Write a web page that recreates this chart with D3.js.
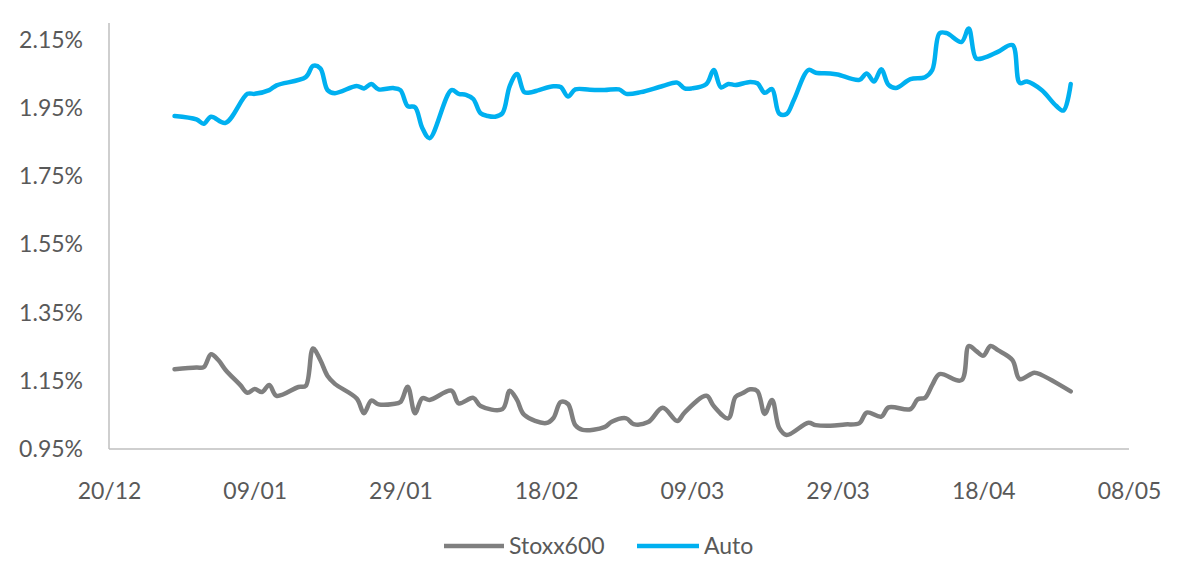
<!DOCTYPE html>
<html>
<head>
<meta charset="utf-8">
<script src="https://cdn.jsdelivr.net/npm/d3@7"></script>
<style>
  html, body { margin: 0; padding: 0; background: #ffffff; }
  svg { display: block; }
  text { font-family: Lato, "Open Sans", sans-serif; fill: #595959; }
</style>
</head>
<body>
<svg id="chart" width="1195" height="565"></svg>
<script>
// ---------- data ----------
const seriesNames = ["Stoxx600", "Auto"];
const xTickLabels = ["20/12", "09/01", "29/01", "18/02", "09/03", "29/03", "18/04", "08/05"];
const yTickValues = [0.95, 1.15, 1.35, 1.55, 1.75, 1.95, 2.15];

const autoDates = ["2019-12-29","2020-01-01","2020-01-02","2020-01-03","2020-01-05","2020-01-08","2020-01-09","2020-01-11","2020-01-12","2020-01-16","2020-01-17","2020-01-18","2020-01-19","2020-01-20","2020-01-23","2020-01-24","2020-01-25","2020-01-26","2020-01-28","2020-01-29","2020-01-30","2020-01-31","2020-02-01","2020-02-02","2020-02-05","2020-02-06","2020-02-07","2020-02-08","2020-02-09","2020-02-10","2020-02-11","2020-02-12","2020-02-13","2020-02-14","2020-02-15","2020-02-16","2020-02-17","2020-02-19","2020-02-20","2020-02-21","2020-02-22","2020-02-24","2020-02-26","2020-02-28","2020-02-29","2020-03-02","2020-03-05","2020-03-07","2020-03-08","2020-03-09","2020-03-11","2020-03-12","2020-03-13","2020-03-14","2020-03-15","2020-03-17","2020-03-18","2020-03-19","2020-03-20","2020-03-21","2020-03-22","2020-03-23","2020-03-25","2020-03-26","2020-03-28","2020-03-29","2020-04-01","2020-04-02","2020-04-03","2020-04-04","2020-04-05","2020-04-06","2020-04-08","2020-04-10","2020-04-11","2020-04-12","2020-04-13","2020-04-15","2020-04-16","2020-04-17","2020-04-18","2020-04-20","2020-04-22","2020-04-23","2020-04-24","2020-04-26","2020-04-28","2020-04-29","2020-04-30"];
const autoValues = [1.927,1.917,1.904,1.925,1.907,1.992,1.992,2.003,2.017,2.041,2.074,2.067,2.003,1.994,2.015,2.008,2.021,2.005,2.009,2.003,1.956,1.953,1.892,1.862,2.003,1.992,1.989,1.977,1.935,1.927,1.925,1.935,2.015,2.050,1.997,1.997,2.003,2.014,2.012,1.984,2.005,2.004,2.003,2.005,1.992,1.997,2.015,2.025,2.008,2.008,2.021,2.062,2.011,2.021,2.018,2.027,2.023,1.995,2.006,1.934,1.933,1.974,2.062,2.054,2.052,2.049,2.033,2.052,2.028,2.064,2.018,2.009,2.035,2.041,2.062,2.170,2.170,2.144,2.184,2.096,2.097,2.115,2.135,2.024,2.028,2.003,1.957,1.943,2.021];

const stoxxDates = ["2019-12-29","2020-01-01","2020-01-02","2020-01-03","2020-01-04","2020-01-05","2020-01-07","2020-01-08","2020-01-09","2020-01-10","2020-01-11","2020-01-12","2020-01-15","2020-01-16","2020-01-17","2020-01-18","2020-01-19","2020-01-20","2020-01-23","2020-01-24","2020-01-25","2020-01-26","2020-01-28","2020-01-29","2020-01-30","2020-01-31","2020-02-01","2020-02-02","2020-02-05","2020-02-06","2020-02-08","2020-02-09","2020-02-12","2020-02-13","2020-02-14","2020-02-15","2020-02-18","2020-02-19","2020-02-20","2020-02-21","2020-02-22","2020-02-23","2020-02-26","2020-02-27","2020-02-29","2020-03-01","2020-03-03","2020-03-05","2020-03-07","2020-03-08","2020-03-11","2020-03-12","2020-03-14","2020-03-15","2020-03-16","2020-03-17","2020-03-18","2020-03-19","2020-03-20","2020-03-21","2020-03-22","2020-03-25","2020-03-26","2020-03-28","2020-03-30","2020-04-01","2020-04-02","2020-04-04","2020-04-05","2020-04-08","2020-04-09","2020-04-10","2020-04-11","2020-04-12","2020-04-15","2020-04-16","2020-04-17","2020-04-18","2020-04-19","2020-04-20","2020-04-22","2020-04-23","2020-04-25","2020-04-26","2020-04-30"];
const stoxxValues = [1.184,1.189,1.190,1.228,1.211,1.182,1.138,1.115,1.126,1.117,1.138,1.106,1.132,1.135,1.245,1.211,1.164,1.141,1.098,1.055,1.092,1.081,1.082,1.088,1.133,1.055,1.099,1.094,1.121,1.084,1.100,1.076,1.067,1.121,1.094,1.050,1.026,1.041,1.088,1.082,1.020,1.006,1.014,1.030,1.040,1.023,1.029,1.071,1.032,1.057,1.106,1.076,1.040,1.103,1.114,1.125,1.120,1.053,1.094,1.011,0.991,1.027,1.020,1.018,1.022,1.026,1.057,1.045,1.072,1.067,1.096,1.100,1.138,1.170,1.152,1.252,1.238,1.224,1.252,1.240,1.211,1.155,1.174,1.167,1.119];

// ---------- chart ----------
const parse = d3.timeParse("%Y-%m-%d");
const fmtTick = d3.timeFormat("%d/%m");
const colors = { "Stoxx600": "#7f7f7f", "Auto": "#00b0f0" };

const svg = d3.select("#chart");
svg.append("rect").attr("width", 1195).attr("height", 565).attr("fill", "#ffffff");

const x = d3.scaleTime()
  .domain([parse("2019-12-20"), parse("2020-05-08")])
  .range([109, 1129]);
const y = d3.scaleLinear().domain([0.95, 2.15]).range([449, 40]);

const xTicks = d3.timeDay.every(20).range(parse("2019-12-20"), d3.timeDay.offset(parse("2020-05-08"), 1))
  .filter((d, i) => i < xTickLabels.length);
// ensure exact 20-day spacing from 20/12
const xTickDates = xTickLabels.map((l, i) => d3.timeDay.offset(parse("2019-12-20"), i * 20));

// axes
const yAxis = d3.axisLeft(y).tickValues(yTickValues).tickSize(0).tickPadding(26)
  .tickFormat(d => d.toFixed(2) + "%");
const gy = svg.append("g").attr("transform", "translate(109,0)").call(yAxis);
gy.select(".domain").remove();
gy.append("line").attr("x1", 0).attr("x2", 0).attr("y1", y(0.95)).attr("y2", y(2.2))
  .attr("stroke", "#bfbfbf").attr("stroke-width", 1.5);
gy.selectAll("text").style("font-size", "23px").attr("fill", "#595959")
  .style("font-family", "Lato, 'Open Sans', sans-serif");

const xAxis = d3.axisBottom(x).tickValues(xTickDates).tickSize(0).tickPadding(34)
  .tickFormat((d, i) => xTickLabels[i]);
const gx = svg.append("g").attr("transform", "translate(0,449)").call(xAxis);
gx.select(".domain").remove();
gx.append("line").attr("x1", x.range()[0]).attr("x2", x.range()[1]).attr("y1", 0).attr("y2", 0)
  .attr("stroke", "#bfbfbf").attr("stroke-width", 1.5);
gx.selectAll("text").style("font-size", "23px").attr("fill", "#595959")
  .style("font-family", "Lato, 'Open Sans', sans-serif");

// lines
const line = d3.line()
  .x(d => x(d.date))
  .y(d => y(d.value))
  .curve(d3.curveCatmullRom.alpha(0.5));

const stoxx = stoxxDates.map((s, i) => ({ date: parse(s), value: stoxxValues[i] }));
const auto = autoDates.map((s, i) => ({ date: parse(s), value: autoValues[i] }));

svg.append("path").datum(stoxx).attr("d", line)
  .attr("fill", "none").attr("stroke", colors["Stoxx600"]).attr("stroke-width", 4.5)
  .attr("stroke-linejoin", "round").attr("stroke-linecap", "round");
svg.append("path").datum(auto).attr("d", line)
  .attr("fill", "none").attr("stroke", colors["Auto"]).attr("stroke-width", 4.5)
  .attr("stroke-linejoin", "round").attr("stroke-linecap", "round");

// legend
const legendItems = [
  { name: seriesNames[0], x1: 444, x2: 504 },
  { name: seriesNames[1], x1: 637, x2: 699 }
];
const lg = svg.append("g");
legendItems.forEach(it => {
  lg.append("line").attr("x1", it.x1).attr("x2", it.x2).attr("y1", 546).attr("y2", 546)
    .attr("stroke", colors[it.name]).attr("stroke-width", 4.5);
  lg.append("text").attr("x", it.x2 + 5).attr("y", 546).attr("dy", "0.35em")
    .style("font-size", "23px").text(it.name);
});
</script>
</body>
</html>
